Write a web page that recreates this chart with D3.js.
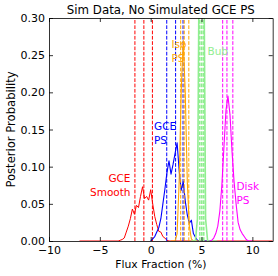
<!DOCTYPE html>
<html>
<head>
<meta charset="utf-8">
<script src="https://cdn.jsdelivr.net/npm/d3@7"></script>
<style>
  body { margin: 0; background: #fff; }
  text { font-family: "DejaVu Sans", sans-serif; }
</style>
</head>
<body>
<div id="chart"></div>
<script>
// Posterior histograms (x = flux fraction %, y = probability)
const smoothX = [-7, -3.2, -3.0, -2.8, -2.6, -2.4, -2.2, -2.0, -1.8, -1.6, -1.4, -1.2, -1.0, -0.8, -0.6, -0.4, -0.2, 0.0, 0.2, 0.4, 0.6, 0.8, 1.0, 1.2, 1.4, 1.6, 1.8, 12];
const smoothY = [0, 0, 0.001, 0.002, 0.004, 0.012, 0.02, 0.03, 0.043, 0.036, 0.048, 0.045, 0.06, 0.073, 0.057, 0.06, 0.055, 0.069, 0.05, 0.033, 0.022, 0.013, 0.012, 0.006, 0.004, 0.001, 0, 0];

const gcePsX = [0.0, 0.2, 0.4, 0.6, 0.8, 1.0, 1.2, 1.4, 1.6, 1.8, 2.0, 2.2, 2.4, 2.6, 2.8, 3.0, 3.2, 3.4, 3.6, 3.8, 4.0, 4.2, 4.4, 4.6, 4.8, 6.0];
const gcePsY = [0, 0.003, 0.006, 0.012, 0.018, 0.03, 0.05, 0.07, 0.092, 0.108, 0.09, 0.103, 0.118, 0.132, 0.095, 0.068, 0.08, 0.054, 0.035, 0.024, 0.028, 0.01, 0.005, 0.001, 0, 0];

const isoX = [2.0, 2.4, 2.6, 2.8, 3.0, 3.2, 3.4, 3.6, 3.8, 4.0, 4.2, 5.0];
const isoY = [0, 0, 0.01, 0.08, 0.2, 0.27, 0.2, 0.08, 0.02, 0.003, 0, 0];

const bubX = [4.0, 4.4, 4.6, 4.8, 5.0, 5.2, 5.4, 5.6, 6.5];
const bubY = [0, 0, 0.03, 0.45, 0.7, 0.45, 0.03, 0, 0];

const diskX = [5.8, 6.0, 6.2, 6.4, 6.6, 6.8, 7.0, 7.2, 7.4, 7.6, 7.8, 8.0, 8.2, 8.4, 8.6, 8.8, 9.0, 9.2, 9.4, 9.6, 10.0];
const diskY = [0, 0.001, 0.004, 0.01, 0.02, 0.04, 0.075, 0.125, 0.175, 0.195, 0.17, 0.12, 0.08, 0.05, 0.025, 0.015, 0.01, 0.006, 0.002, 0, 0];

// 16th / 50th / 84th percentiles (dashed lines)
const smoothPct = [-1.55, -0.67, 0.17];
const gcePsPct = [1.58, 2.45, 3.18];
const isoPct = [2.95, 3.3, 3.75];
const bubPct = [4.83, 5.03, 5.22];
const diskPct = [7.08, 7.5, 8.08];

const xTicks = [-10, -5, 0, 5, 10];
const yTicks = [0, 0.05, 0.10, 0.15, 0.20, 0.25, 0.30];

const width = 278;
const height = 276;
const margin = { top: 18, right: 5.3, bottom: 35, left: 49 };
const innerW = width - margin.left - margin.right;
const innerH = height - margin.top - margin.bottom;

const svg = d3.select("#chart").append("svg")
  .attr("width", width)
  .attr("height", height);

const x = d3.scaleLinear().domain([-10, 12]).range([0, innerW]);
const y = d3.scaleLinear().domain([0, 0.30]).range([innerH, 0]);

const g = svg.append("g")
  .attr("transform", `translate(${margin.left},${margin.top})`);

svg.append("defs").append("clipPath").attr("id", "plotClip")
  .append("rect").attr("width", innerW).attr("height", innerH);

const plot = g.append("g").attr("clip-path", "url(#plotClip)");

const line = d3.line().x(d => x(d[0])).y(d => y(d[1]));

const series = [
  { xs: smoothX, ys: smoothY, pct: smoothPct, color: "#ff0000", lw: 1, dw: 1 },
  { xs: gcePsX, ys: gcePsY, pct: gcePsPct, color: "#0000ff", lw: 1.1, dw: 1 },
  { xs: isoX, ys: isoY, pct: isoPct, color: "#ffa500", lw: 1.1, dw: 1 },
  { xs: bubX, ys: bubY, pct: bubPct, color: "#90ee90", lw: 1.6, dw: 1.6 },
  { xs: diskX, ys: diskY, pct: diskPct, color: "#ff00ff", lw: 1.1, dw: 1 }
];

series.forEach(s => {
  plot.append("path")
    .datum(s.xs.map((v, i) => [v, s.ys[i]]))
    .attr("d", line)
    .attr("fill", "none")
    .attr("stroke", s.color)
    .attr("stroke-width", s.lw)
    .attr("stroke-linejoin", "round");

  plot.selectAll(null)
    .data(s.pct)
    .enter()
    .append("line")
    .attr("x1", d => x(d)).attr("x2", d => x(d))
    .attr("y1", y(0)).attr("y2", y(0.30))
    .attr("stroke", s.color)
    .attr("stroke-width", s.dw)
    .attr("stroke-dasharray", "3.7,1.6");
});

// Axes with inward ticks on all four sides
const fmtY = d3.format(".2f");
const xAxis = g.append("g").attr("transform", `translate(0,${innerH})`)
  .call(d3.axisBottom(x).tickValues(xTicks).tickSizeInner(-4).tickSizeOuter(0).tickPadding(5));
const yAxis = g.append("g")
  .call(d3.axisLeft(y).tickValues(yTicks).tickFormat(fmtY).tickSizeInner(-4).tickSizeOuter(0).tickPadding(4));
const xTop = g.append("g")
  .call(d3.axisTop(x).tickValues(xTicks).tickFormat("").tickSizeInner(-4).tickSizeOuter(0));
const yRight = g.append("g").attr("transform", `translate(${innerW},0)`)
  .call(d3.axisRight(y).tickValues(yTicks).tickFormat("").tickSizeInner(-4).tickSizeOuter(0));

[xAxis, yAxis, xTop, yRight].forEach(a => {
  a.select(".domain").attr("stroke", "#000").attr("stroke-width", 0.8);
  a.selectAll(".tick line").attr("stroke", "#000").attr("stroke-width", 0.8);
  a.selectAll(".tick text").attr("font-size", 11).attr("fill", "#000")
    .attr("font-family", "DejaVu Sans, sans-serif");
});

// Title and axis labels
svg.append("text")
  .attr("x", margin.left + innerW / 2).attr("y", 14)
  .attr("text-anchor", "middle").attr("font-size", 11.8)
  .text("Sim Data, No Simulated GCE PS");

svg.append("text")
  .attr("x", margin.left + innerW / 2).attr("y", 268)
  .attr("text-anchor", "middle").attr("font-size", 10.8)
  .text("Flux Fraction (%)");

svg.append("text")
  .attr("transform", `translate(14.5,${margin.top + innerH / 2}) rotate(-90)`)
  .attr("text-anchor", "middle").attr("font-size", 11.6)
  .text("Posterior Probability");

// Component annotations
const labels = [
  { lines: ["GCE", "Smooth"], x: 130.5, y: 182, anchor: "end", color: "#ff0000" },
  { lines: ["GCE", "PS"], x: 154, y: 130, anchor: "start", color: "#0000ff" },
  { lines: ["Iso", "PS"], x: 171.5, y: 48, anchor: "start", color: "#ffa500" },
  { lines: ["Bub"], x: 207.5, y: 55, anchor: "start", color: "#90ee90" },
  { lines: ["Disk", "PS"], x: 236.5, y: 190, anchor: "start", color: "#ff00ff" }
];

labels.forEach(l => {
  const t = svg.append("text")
    .attr("x", l.x).attr("y", l.y)
    .attr("text-anchor", l.anchor)
    .attr("font-size", 10.5)
    .attr("fill", l.color);
  l.lines.forEach((s, i) => {
    t.append("tspan").attr("x", l.x).attr("dy", i === 0 ? 0 : 13.7).text(s);
  });
});
</script>
</body>
</html>
